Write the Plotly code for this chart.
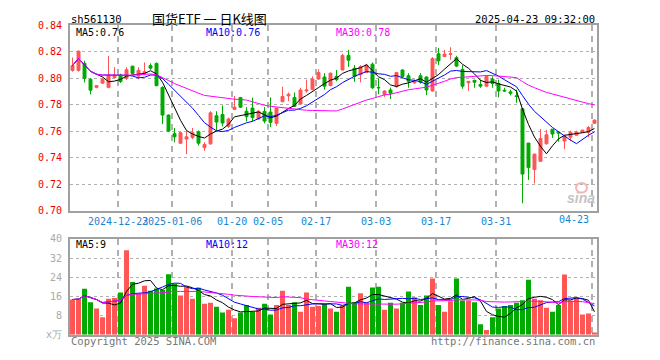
import plotly.graph_objects as go
import pandas as pd

W, H = 660, 360

# ---------------- data ----------------
opens = [0.8060, 0.8060, 0.8113, 0.7993, 0.7932, 0.7964, 0.7932, 0.8007, 0.8024, 0.8000,
         0.8092, 0.8017, 0.8036, 0.8096, 0.8113, 0.7932, 0.7723, 0.7583, 0.7511, 0.7542,
         0.7554, 0.7597, 0.7477, 0.7506, 0.7718, 0.7728, 0.7638, 0.7766, 0.7855, 0.7752,
         0.7776, 0.7694, 0.7751, 0.7746, 0.7661, 0.7824, 0.7868, 0.7856, 0.7807, 0.7905,
         0.7917, 0.7995, 0.8010, 0.7946, 0.8015, 0.8063, 0.8173, 0.8076, 0.8027, 0.8044,
         0.8107, 0.7932, 0.7880, 0.7912, 0.7937, 0.8063, 0.8020, 0.7966, 0.8020, 0.8010,
         0.7905, 0.8185, 0.8164, 0.8180, 0.8156, 0.8068, 0.7966, 0.7985, 0.7954, 0.7941,
         0.7995, 0.7961, 0.7910, 0.7898, 0.7868, 0.7771, 0.7512, 0.7312, 0.7375, 0.7507,
         0.7617, 0.7595, 0.7527, 0.7556, 0.7571, 0.7593, 0.7593, 0.7661]
highs = [0.8157, 0.8210, 0.8133, 0.8000, 0.7950, 0.8005, 0.8169, 0.8084, 0.8035, 0.8084,
         0.8095, 0.8084, 0.8120, 0.8113, 0.8120, 0.7940, 0.7728, 0.7626, 0.7597, 0.7602,
         0.7626, 0.7607, 0.7518, 0.7752, 0.7752, 0.7795, 0.7704, 0.7867, 0.7860, 0.7783,
         0.7855, 0.7760, 0.7783, 0.7856, 0.7780, 0.7937, 0.7893, 0.7893, 0.7929, 0.7990,
         0.8015, 0.8068, 0.8039, 0.8044, 0.8063, 0.8185, 0.8215, 0.8100, 0.8100, 0.8110,
         0.8120, 0.8000, 0.7910, 0.7930, 0.8050, 0.8068, 0.8039, 0.7990, 0.8040, 0.8015,
         0.8160, 0.8230, 0.8215, 0.8235, 0.8170, 0.8100, 0.7978, 0.7990, 0.7990, 0.8020,
         0.8015, 0.7990, 0.7929, 0.7915, 0.7915, 0.7775, 0.7512, 0.7429, 0.7617, 0.7612,
         0.7617, 0.7600, 0.7575, 0.7605, 0.7605, 0.7612, 0.7641, 0.7690]
lows = [0.8050, 0.8050, 0.7969, 0.7879, 0.7925, 0.7960, 0.7925, 0.8000, 0.7965, 0.7988,
        0.8030, 0.7993, 0.8024, 0.8065, 0.7940, 0.7655, 0.7595, 0.7518, 0.7506, 0.7429,
        0.7542, 0.7494, 0.7453, 0.7500, 0.7607, 0.7638, 0.7626, 0.7760, 0.7776, 0.7675,
        0.7675, 0.7690, 0.7661, 0.7632, 0.7641, 0.7820, 0.7829, 0.7785, 0.7800, 0.7893,
        0.7910, 0.7990, 0.7915, 0.7940, 0.7978, 0.8060, 0.8087, 0.7973, 0.7970, 0.8040,
        0.7920, 0.7880, 0.7860, 0.7844, 0.7930, 0.8010, 0.7929, 0.7960, 0.7960, 0.7873,
        0.7900, 0.8100, 0.8160, 0.8140, 0.8085, 0.7922, 0.7905, 0.7929, 0.7929, 0.7935,
        0.7929, 0.7856, 0.7898, 0.7871, 0.7815, 0.7058, 0.7234, 0.7207, 0.7370, 0.7500,
        0.7551, 0.7522, 0.7466, 0.7527, 0.7568, 0.7588, 0.7556, 0.7658]
closes = [0.8096, 0.8205, 0.8000, 0.7911, 0.7945, 0.7993, 0.8024, 0.8024, 0.7976, 0.8065,
          0.8036, 0.8060, 0.8050, 0.8077, 0.7945, 0.7723, 0.7602, 0.7559, 0.7590, 0.7559,
          0.7590, 0.7511, 0.7501, 0.7740, 0.7670, 0.7663, 0.7694, 0.7783, 0.7783, 0.7711,
          0.7704, 0.7752, 0.7678, 0.7668, 0.7776, 0.7863, 0.7880, 0.7790, 0.7912, 0.7912,
          0.7995, 0.8044, 0.7941, 0.8039, 0.7990, 0.8173, 0.8137, 0.8015, 0.8088, 0.8100,
          0.7929, 0.7929, 0.7905, 0.7888, 0.8044, 0.8015, 0.7978, 0.7978, 0.7971, 0.7912,
          0.8149, 0.8132, 0.8183, 0.8185, 0.8093, 0.7941, 0.7978, 0.7971, 0.7941, 0.8015,
          0.7961, 0.7905, 0.7905, 0.7888, 0.7863, 0.7278, 0.7327, 0.7429, 0.7546, 0.7575,
          0.7580, 0.7588, 0.7563, 0.7593, 0.7595, 0.7610, 0.7629, 0.7685]
# volume in 万 (10k)
volumes = [14.7, 15.0, 19.2, 13.6, 10.9, 7.3, 15.0, 15.3, 17.6, 35.3,
           22.0, 17.3, 20.4, 18.4, 19.3, 18.7, 25.3, 21.3, 16.4, 20.0,
           15.0, 19.6, 12.9, 13.3, 11.7, 9.3, 10.4, 6.9, 9.3, 12.4,
           9.6, 11.3, 12.9, 8.4, 12.4, 18.4, 12.4, 13.6, 9.6, 17.6,
           11.7, 12.0, 12.7, 10.9, 9.6, 12.3, 20.0, 13.6, 17.3, 13.3,
           19.7, 20.0, 10.4, 13.3, 10.9, 13.3, 18.0, 15.6, 12.4, 16.4,
           23.5, 12.4, 9.6, 14.0, 23.5, 14.3, 14.3, 13.6, 4.4, 2.0,
           7.3, 10.9, 12.0, 12.4, 13.3, 14.4, 23.0, 15.0, 14.4, 11.3,
           9.6, 12.4, 25.1, 14.3, 15.3, 8.4, 8.9, 0.9]

tick_idx = [8, 17, 27, 33, 41, 51, 61, 71, 87]
tick_text = ["2024-12-23", "2025-01-06", "01-20", "02-05", "02-17",
             "03-03", "03-17", "03-31", "04-23"]
price_ticks = [0.70, 0.72, 0.74, 0.76, 0.78, 0.80, 0.82, 0.84]
vol_ticks = [0, 8, 16, 24, 32, 40]
vol_tick_text = ["x万", "8", "16", "24", "32", "40"]

code = "sh561130"
title = "国货ETF 一 日K线图"
stamp = "2025-04-23 09:32:00"

# ---------------- derived ----------------
N = len(closes)
x = list(range(N))
cs = pd.Series(closes)
vs = pd.Series(volumes)
ma = {n: cs.rolling(n, min_periods=1).mean() for n in (5, 10, 30)}
vma = {n: vs.rolling(n, min_periods=1).mean() for n in (5, 10, 30)}

RED = "#ff5555"
GREEN = "#00aa00"
MA_COL = {5: "#000000", 10: "#0000ff", 30: "#ff00ff"}
MONO = "DejaVu Sans Mono"

vol_colors = [RED if c >= o else GREEN for o, c in zip(opens, closes)]

fig = go.Figure()
fig.add_trace(go.Candlestick(
    x=x, open=opens, high=highs, low=lows, close=closes,
    increasing=dict(line=dict(color=RED, width=1), fillcolor=RED),
    decreasing=dict(line=dict(color=GREEN, width=1), fillcolor=GREEN),
    whiskerwidth=0, xaxis="x", yaxis="y", hoverinfo="skip"))
for n in (5, 10, 30):
    fig.add_trace(go.Scatter(x=x, y=ma[n], mode="lines",
                             line=dict(color=MA_COL[n], width=1),
                             xaxis="x", yaxis="y", hoverinfo="skip"))
fig.add_trace(go.Bar(x=x, y=volumes, marker=dict(color=vol_colors, line=dict(width=0)),
                     width=0.83, xaxis="x2", yaxis="y2", hoverinfo="skip"))
for n in (5, 10, 30):
    fig.add_trace(go.Scatter(x=x, y=vma[n], mode="lines",
                             line=dict(color=MA_COL[n], width=1),
                             xaxis="x2", yaxis="y2", hoverinfo="skip"))

def px(v):
    return v / W

def py(v):
    return 1 - v / H

xdom = [px(70), px(597)]
xrange_ = [-0.42, N - 1 + 0.42]
tickvals = [i - 0.4 for i in tick_idx]
GRID = "#b0b0b0"
BORDER = "#a0a0a0"

common_x = dict(domain=xdom, range=xrange_, showline=True, mirror=True,
                linecolor=BORDER, linewidth=2, tickvals=tickvals,
                showgrid=True, gridcolor=GRID, gridwidth=1.5, griddash="6px,5px",
                zeroline=False, ticks="", fixedrange=True)

fig.update_layout(
    width=W, height=H, margin=dict(l=0, r=0, t=0, b=0),
    paper_bgcolor="white", plot_bgcolor="white", showlegend=False,
    boxgap=0.3,
    xaxis=dict(**common_x, anchor="y",
               ticktext=tick_text[:-1] + [""], tickangle=0,
               tickfont=dict(family=MONO, size=10, color="#1a86d0"),
               rangeslider=dict(visible=False)),
    yaxis=dict(domain=[py(212), py(20)], range=[0.70, 0.84], tickvals=price_ticks,
               ticktext=[f"{v:.2f}" for v in price_ticks],
               tickfont=dict(family=MONO, size=10, color="#ee0000"),
               showline=True, mirror=True, linecolor=BORDER, linewidth=2,
               showgrid=True, gridcolor=GRID, gridwidth=1, griddash="dot",
               zeroline=False, ticks="", ticklabelstandoff=4, fixedrange=True),
    xaxis2=dict(**common_x, anchor="y2", showticklabels=False),
    yaxis2=dict(domain=[py(340), py(241)], range=[0, 40], tickvals=vol_ticks,
                ticktext=vol_tick_text,
                tickfont=dict(family=MONO, size=10, color="#aaaaaa"),
                showline=True, mirror=True, linecolor=BORDER, linewidth=2,
                showgrid=True, gridcolor=GRID, gridwidth=1, griddash="dot",
                zeroline=False, ticks="", ticklabelstandoff=4, fixedrange=True),
)

ann = []
def text(xp, yp, s, color="#000000", size=10, family=MONO, xanchor="left", **kw):
    ann.append(dict(x=px(xp), y=py(yp), xref="paper", yref="paper", text=s,
                    showarrow=False, xanchor=xanchor, yanchor="middle",
                    font=dict(family=family, size=size, color=color), **kw))

text(69, 13, code, size=10.5)
text(209, 13, title, size=13, family="Noto Sans CJK SC", xanchor="center")
text(597, 13, stamp, size=10.5, xanchor="right")
text(591, 221, tick_text[-1], color="#1a86d0", xanchor="right")

text(74, 27, f"MA5:{ma[5].iloc[-1]:.2f}", color=MA_COL[5])
text(204, 27, f"MA10:{ma[10].iloc[-1]:.2f}", color=MA_COL[10])
text(334, 27, f"MA30:{ma[30].iloc[-1]:.2f}", color=MA_COL[30])
text(74, 247, f"MA5:{int(vma[5].iloc[-1])}", color=MA_COL[5])
text(204, 247, f"MA10:{int(vma[10].iloc[-1])}", color=MA_COL[10])
text(334, 247, f"MA30:{int(vma[30].iloc[-1])}", color=MA_COL[30])

text(69, 347, "Copyright 2025 SINA.COM", color="#777777", size=10.5)
text(597, 347, "http://finance.sina.com.cn", color="#777777", size=10.5, xanchor="right")
text(597, 199, "<b><i>sina</i></b>", color="#c4c4c4", size=14, family="Liberation Sans",
     xanchor="right")
fig.update_layout(annotations=ann)

# faint pink "eye" of the watermark logo
fig.add_shape(type="circle", xref="paper", yref="paper",
              x0=px(576), x1=px(587), y0=py(193), y1=py(183),
              line=dict(color="#f4b4b4", width=2), fillcolor="rgba(0,0,0,0)")

fig.write_html("out.html", config={"displayModeBar": False},
               post_script="document.body.style.margin='0';")
